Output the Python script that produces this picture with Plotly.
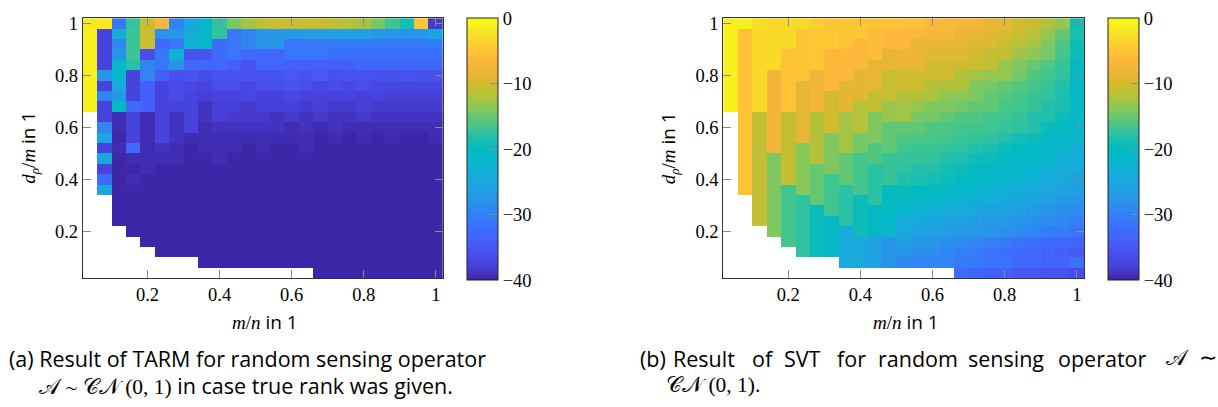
import plotly.graph_objects as go

W, H = 1218, 407
N = None

# ---------------- data ----------------
m_over_n = [0.04, 0.08, 0.12, 0.16, 0.20, 0.24, 0.28, 0.32, 0.36, 0.40, 0.44, 0.48, 0.52,
            0.56, 0.60, 0.64, 0.68, 0.72, 0.76, 0.80, 0.84, 0.88, 0.92, 0.96, 1.00]
# rows listed from top (d_p/m = 1.00) to bottom (0.04)
dp_over_m = [1.00, 0.96, 0.92, 0.88, 0.84, 0.80, 0.76, 0.72, 0.68, 0.64, 0.60, 0.56, 0.52,
             0.48, 0.44, 0.40, 0.36, 0.32, 0.28, 0.24, 0.20, 0.16, 0.12, 0.08, 0.04]

tarm = [
    [-1.5, -1.5, -31, -17.5, -10.5, -7, -29.5, -25, -21.5, -17.5, -14.5, -12.5, -11, -10.5, -10.5, -10.5, -10.5, -11, -11.5, -12.5, -14.5, -17, -19, -5, -38.5],
    [-1, -37.5, -23.5, -17, -10.5, -28, -27.5, -23.5, -21.5, -17.5, -31, -29.5, -27.6, -27.6, -27, -26.5, -26.5, -26, -25.5, -26, -27, -27.5, -28, -27.5, -25],
    [-1, -37.5, -29.5, -17, -10.5, -33, -31, -22.5, -21.5, -32.5, -31, -29.5, -27.6, -27.6, -31, -31, -31, -30.5, -30.5, -30.5, -30.5, -30.5, -30.5, -30.5, -30.5],
    [-1, -37.5, -27.5, -17, -36.5, -31, -23, -36, -35.5, -32.5, -31, -33, -33.2, -33.2, -31, -31, -31, -32, -32, -32, -32, -32, -32, -32, -32],
    [-1, -37.5, -21, -18, -29.5, -31, -28, -33, -33, -33, -34, -35.5, -33.2, -33.2, -34, -34, -34, -34, -34, -33.2, -33.2, -33.2, -33.2, -33.2, -33.2],
    [-1, -27.5, -22, -37.5, -29.5, -34, -36, -35.5, -36.5, -35.5, -35.5, -35.5, -35.6, -35.6, -35, -35.6, -35, -36, -35.6, -35.6, -36, -36, -35.6, -36, -36],
    [-1, -37.5, -24.5, -37.5, -34, -37.5, -36.5, -37, -37.5, -36.5, -36.5, -37, -36.4, -36.4, -36, -36.4, -37, -36.4, -37, -36.4, -37, -37, -37, -37, -37],
    [-1, -29.5, -27, -37.5, -34, -37.5, -36.5, -37.5, -38, -37.5, -37.5, -37, -37.6, -37.6, -37, -37.6, -37.6, -37.6, -37.6, -38, -37.6, -38, -38, -38, -38],
    [-1, -37.5, -20.5, -32.5, -34, -37.5, -37.5, -37.5, -39, -38, -38, -38.5, -38, -38, -38, -38.5, -38, -38.5, -38.5, -38, -38.5, -38.5, -38.5, -38.5, -38.5],
    [N, -37.5, -39.5, -37.5, -39.5, -37.5, -39, -37.5, -39, -38, -38.5, -38.5, -38.5, -39, -38.5, -39, -38.5, -39, -39, -38.5, -39, -39, -39, -39, -39],
    [N, -29.5, -39.5, -37.5, -39.5, -37.5, -39, -37.5, -39.5, -39, -39, -39, -39, -39, -39.5, -39, -39.5, -39, -39.5, -39.5, -39.5, -39.5, -39.5, -39.5, -39.5],
    [N, -25, -40, -37.5, -39.5, -37.5, -39, -39.5, -39.5, -39.5, -39.5, -39.5, -39.5, -39.5, -39.5, -39.5, -40, -39.5, -40, -39.5, -40, -39.5, -40, -40, -39.5],
    [N, -37.5, -39.5, -33, -39.5, -39, -39.5, -40, -39.5, -39.5, -39.5, -40, -39.5, -40, -40, -39.5, -40, -40, -40, -40, -40, -40, -40, -40, -40],
    [N, -25, -40, -39.5, -39.5, -39.5, -39.5, -40, -40, -39.5, -40, -40, -40, -40, -40, -40, -40, -40, -40, -40, -40, -40, -40, -40, -40],
    [N, -37.5, -40, -40, -39.5, -40, -40, -40, -40, -40, -40, -40, -40, -40, -40, -40, -40, -40, -40, -40, -40, -40, -40, -40, -40],
    [N, -32.5, -40, -39.5, -40, -40, -40, -40, -40, -40, -40, -40, -40, -40, -40, -40, -40, -40, -40, -40, -40, -40, -40, -40, -40],
    [N, -25, -40, -40, -40, -40, -40, -40, -40, -40, -40, -40, -40, -40, -40, -40, -40, -40, -40, -40, -40, -40, -40, -40, -40],
    [N, N, -40, -40, -40, -40, -40, -40, -40, -40, -40, -40, -40, -40, -40, -40, -40, -40, -40, -40, -40, -40, -40, -40, -40],
    [N, N, -40, -40, -40, -40, -40, -40, -40, -40, -40, -40, -40, -40, -40, -40, -40, -40, -40, -40, -40, -40, -40, -40, -40],
    [N, N, -40, -40, -40, -40, -40, -40, -40, -40, -40, -40, -40, -40, -40, -40, -40, -40, -40, -40, -40, -40, -40, -40, -40],
    [N, N, N, -40, -40, -40, -40, -40, -40, -40, -40, -40, -40, -40, -40, -40, -40, -40, -40, -40, -40, -40, -40, -40, -40],
    [N, N, N, N, -40, -40, -40, -40, -40, -40, -40, -40, -40, -40, -40, -40, -40, -40, -40, -40, -40, -40, -40, -40, -40],
    [N, N, N, N, N, -40, -40, -40, -40, -40, -40, -40, -40, -40, -40, -40, -40, -40, -40, -40, -40, -40, -40, -40, -40],
    [N, N, N, N, N, N, N, N, -40, -40, -40, -40, -40, -40, -40, -40, -40, -40, -40, -40, -40, -40, -40, -40, -40],
    [N, N, N, N, N, N, N, N, N, N, N, N, N, N, N, N, -40, -40, -40, -40, -40, -40, -40, -40, -40],
]

svt = [
    [-1, -1, -2.5, -3, -3, -3, -4, -4.8, -4.8, -4.8, -5.2, -5.2, -5.5, -5.5, -6.5, -6.5, -7.2, -7.2, -8.8, -8.8, -10.2, -10.6, -12, -13.2, -19.2],
    [-1, -5.4, -3, -3, -3, -5, -4.8, -4.8, -5.2, -4.8, -6, -6.4, -6.4, -6.4, -7.2, -7.2, -8.4, -8.4, -9.2, -9.6, -10.6, -11.6, -13.2, -15.2, -18.6],
    [-1, -5.4, -3, -3, -3, -5, -4.8, -4.8, -5.2, -6.4, -6, -6.4, -6.4, -8.4, -8.8, -8.8, -8.8, -9.6, -9.6, -10.6, -11.6, -12.6, -14.2, -16, -19.2],
    [-1, -5.4, -3, -3, -5.4, -5, -4.8, -6.4, -6.4, -6.4, -6, -8.8, -8.4, -8.4, -9.2, -9.2, -9.2, -10.2, -11, -11, -12.8, -13.6, -14.6, -16.6, -19.4],
    [-1, -5.4, -3, -3, -5.4, -5, -4.8, -6.4, -6.4, -6.4, -8.8, -8.8, -8.8, -8.8, -10.2, -10.2, -10.4, -10.4, -11, -13.2, -14.2, -15.2, -16, -17.2, -20],
    [-1, -5.4, -3, -7.6, -5.4, -5, -7.6, -6.4, -6.4, -9, -8.8, -10.6, -10.2, -10.2, -10.2, -10.2, -12, -12.6, -13.2, -13.2, -14.6, -16, -16.8, -17.6, -20.8],
    [-1, -5.4, -3, -7.6, -5.4, -8.8, -7.6, -6.4, -9, -9, -8.8, -10.6, -10.2, -10.2, -12, -12, -12, -14.2, -14.6, -15.4, -15.8, -16.6, -17.2, -18.2, -20.8],
    [-1, -5.4, -3, -7.6, -5.4, -8.8, -7.6, -10.2, -9, -9, -11, -10.6, -12, -12, -12.2, -13.6, -13.6, -14.2, -15.4, -15.8, -16.4, -17.2, -17.6, -18.6, -20.8],
    [-1, -5.4, -3, -7.6, -5.4, -8.8, -7.6, -10.2, -9, -11.6, -11, -13, -12.6, -13.2, -14.2, -14.2, -14.8, -15.4, -15.4, -16.4, -16.8, -17.2, -18.2, -18.6, -21.2],
    [N, -5.4, -11, -7.6, -11, -8.8, -11.8, -10.2, -12.6, -11.6, -14.2, -13, -12.6, -14.6, -14.6, -15.4, -16, -16, -16.6, -16.8, -17.2, -18.2, -18.2, -19.4, -21.2],
    [N, -5.4, -11, -7.6, -11, -8.8, -11.8, -10.2, -12.6, -11.6, -14.2, -15.4, -15.4, -15.4, -16, -16.2, -16.6, -16.8, -16.8, -17.2, -17.6, -18.2, -19.4, -20.2, -21.8],
    [N, -5.4, -11, -7.6, -11, -8.8, -11.8, -14.2, -12.6, -14.6, -14.2, -15.4, -16, -16.2, -16.2, -16.6, -17, -17.2, -17.6, -18.2, -19, -19.4, -20.8, -21.2, -22.4],
    [N, -5.4, -11, -7.6, -11, -13.8, -11.8, -14.2, -12.6, -14.6, -16, -15.4, -16.6, -17, -17, -17.2, -17.6, -18.2, -18.6, -19.4, -20.2, -20.8, -21.2, -22.2, -23.2],
    [N, -5.4, -11, -14.2, -11, -13.8, -11.8, -14.2, -15.4, -16.6, -16, -17.2, -17.2, -17.2, -17.6, -18.2, -18.6, -19.4, -19.4, -20.8, -20.8, -21.2, -22.2, -23.2, -23.8],
    [N, -5.4, -11, -14.2, -11, -13.8, -15.2, -14.2, -15.4, -16.6, -17.8, -17.2, -17.6, -18.2, -18.2, -19, -19.4, -20.2, -20.8, -21.2, -21.8, -22.2, -23.2, -23.8, -24.4],
    [N, -5.4, -11, -14.2, -11, -13.8, -15.2, -16.8, -15.4, -16.6, -17.8, -17.2, -18.2, -18.6, -19, -19.4, -20.2, -20.8, -21.2, -21.8, -22.8, -23.2, -23.8, -24.4, -25.6],
    [N, -5.4, -11, -14.2, -16.6, -13.8, -15.2, -16.8, -17.8, -16.6, -17.8, -20, -19.4, -20.2, -20.2, -20.8, -21.2, -21.8, -22.8, -23.2, -23.8, -24.4, -25, -25.6, -26.4],
    [N, N, -11, -14.2, -16.6, -17.6, -15.2, -16.8, -17.8, -19.4, -17.8, -20, -20.2, -20.8, -21.2, -21.8, -22.8, -23.2, -23.8, -24.4, -25, -25.6, -26.4, -27, -27.6],
    [N, N, -11, -14.2, -16.6, -17.6, -19.6, -16.8, -17.8, -19.4, -20.8, -20, -22.2, -22.6, -23.2, -23.8, -24.4, -25, -25.6, -25.8, -26.4, -27, -27.6, -28.2, -28.8],
    [N, N, -11, -14.2, -16.6, -17.6, -19.6, -20.8, -17.8, -19.4, -20.8, -22, -24.4, -24.4, -25, -25.6, -25.8, -26.4, -27, -27, -27.6, -28.2, -28.8, -29.4, -30],
    [N, N, N, -14.2, -16.6, -17.6, -19.6, -20.8, -24.2, -19.4, -20.8, -22, -24.4, -25.6, -25.8, -26.4, -27, -27, -27.6, -28.2, -28.8, -29.4, -30, -30.6, -31.2],
    [N, N, N, N, -16.6, -17.6, -19.6, -20.8, -24.2, -24.8, -26, -27.8, -25.6, -27, -27.6, -28.2, -28.8, -29.4, -30, -30.6, -31.2, -31.8, -32.4, -33, -33.6],
    [N, N, N, N, N, -17.6, -19.6, -20.8, -24.2, -24.8, -26, -27.8, -27.4, -28.6, -28.2, -29.4, -30, -30.6, -31.2, -31.8, -32.4, -33, -33.6, -34, -34.6],
    [N, N, N, N, N, N, N, N, -24.2, -24.8, -26, -27.8, -29.4, -29.4, -29.4, -29.4, -30.8, -30.8, -31.6, -31.6, -32.8, -32.8, -33.6, -33.6, -31.6],
    [N, N, N, N, N, N, N, N, N, N, N, N, N, N, N, N, -32.4, -33.2, -34, -34, -35, -35, -35.6, -35.6, -36.4],
]

tick_vals = [0.2, 0.4, 0.6, 0.8, 1.0]
tick_text = ["0.2", "0.4", "0.6", "0.8", "1"]
cbar_vals = [-40, -30, -20, -10, 0]

parula = [
    [0.00, "#3E26A8"], [0.05, "#4640D8"], [0.10, "#4850EE"], [0.15, "#4560FA"],
    [0.20, "#3C6EFD"], [0.25, "#3380F6"], [0.29, "#2A90EC"], [0.345, "#21A0E2"],
    [0.40, "#16ACDA"], [0.45, "#08B6CC"], [0.50, "#02BAC0"], [0.55, "#25C1A8"],
    [0.60, "#50C780"], [0.65, "#84C85C"], [0.70, "#B0C23C"], [0.75, "#D4BB2C"],
    [0.79, "#EDB535"], [0.84, "#FDB83C"], [0.89, "#FCCB30"], [0.94, "#F7E025"],
    [1.00, "#F9FB15"],
]

# ---------------- layout helpers ----------------
def px(x):
    return x / W

def py(y):
    return 1 - y / H

SERIF = "Liberation Serif, DejaVu Serif, serif"
SANS = "Open Sans"

ax1 = [82.7, 443.0]
ax2 = [723.3, 1084.0]
ay = [14.3, 276.7]

def cbar(xleft):
    return dict(
        x=px(xleft), xanchor="left", xpad=0, ypad=0,
        y=py(ay[0]), yanchor="top",
        lenmode="pixels", len=ay[1] - ay[0],
        thicknessmode="pixels", thickness=31.4,
        outlinecolor="#222", outlinewidth=1, borderwidth=0,
        tickvals=cbar_vals, ticks="inside", ticklen=8, tickcolor="#8c8c8c",
        tickfont=dict(family=SERIF, size=18.5, color="black"),
    )

fig = go.Figure()
fig.add_trace(go.Heatmap(x=m_over_n, y=dp_over_m, z=tarm, zmin=-40, zmax=0,
                         colorscale=parula, xaxis="x", yaxis="y",
                         colorbar=cbar(467.3), hoverongaps=False))
fig.add_trace(go.Heatmap(x=m_over_n, y=dp_over_m, z=svt, zmin=-40, zmax=0,
                         colorscale=parula, xaxis="x2", yaxis="y2",
                         colorbar=cbar(1108.3), hoverongaps=False))

axis_common = dict(
    range=[0.02, 1.02], tickvals=tick_vals, ticktext=tick_text,
    ticks="inside", ticklen=8, tickcolor="#8c8c8c", tickwidth=1,
    showline=True, linecolor="#333", linewidth=1, mirror="allticks",
    showgrid=False, zeroline=False,
    tickfont=dict(family=SERIF, size=18.5, color="black"),
)

fig.update_layout(
    width=W, height=H, margin=dict(l=0, r=0, t=0, b=0),
    paper_bgcolor="white", plot_bgcolor="white",
    xaxis=dict(axis_common, domain=[px(ax1[0]), px(ax1[1])], anchor="y"),
    yaxis=dict(axis_common, domain=[py(ay[1]), py(ay[0])], anchor="x"),
    xaxis2=dict(axis_common, domain=[px(ax2[0]), px(ax2[1])], anchor="y2"),
    yaxis2=dict(axis_common, domain=[py(ay[1]), py(ay[0])], anchor="x2"),
    showlegend=False,
)

def math(s):
    return f"<span style='font-family:Liberation Serif'>{s}</span>"

xlabel = math("<i>m</i>/<i>n</i>") + " in 1"
ylabel = math("<i>d</i><sub><i>ρ</i></sub>/<i>m</i>") + " in 1"

ann = []
for a in (ax1, ax2):
    cx = (a[0] + a[1]) / 2
    ann.append(dict(text=xlabel, x=px(cx + 2), y=py(321), xref="paper", yref="paper",
                    xanchor="center", yanchor="middle", showarrow=False,
                    font=dict(family=SANS, size=19, color="black")))
    ann.append(dict(text=ylabel, x=px(a[0] - 55), y=py(145.5), xref="paper", yref="paper",
                    xanchor="center", yanchor="middle", showarrow=False, textangle=-90,
                    font=dict(family=SANS, size=19, color="black")))

cap_font = dict(family=SANS, size=21.5, color="black")
ann.append(dict(text="(a) Result of TARM for random sensing operator",
                x=px(7), y=py(358), xref="paper", yref="paper", xanchor="left",
                yanchor="middle", showarrow=False, font=cap_font))
ann.append(dict(text=math("𝒜 ∼ 𝒞𝒩 (0, 1)") + " in case true rank was given.",
                x=px(37), y=py(385), xref="paper", yref="paper", xanchor="left",
                yanchor="middle", showarrow=False, font=cap_font))

words_b = ["(b)", "Result", "of", "SVT", "for", "random", "sensing", "operator", math("𝒜"), math("∼")]
word_x = [638, 671, 750, 782, 835, 876, 966, 1056, 1164, 1197]
for wtxt, wx in zip(words_b, word_x):
    ann.append(dict(text=wtxt, x=px(wx), y=py(358), xref="paper", yref="paper",
                    xanchor="left", yanchor="middle", showarrow=False, font=cap_font))
ann.append(dict(text=math("𝒞𝒩 (0, 1)."), x=px(664), y=py(385), xref="paper", yref="paper",
                xanchor="left", yanchor="middle", showarrow=False, font=cap_font))

fig.update_layout(annotations=ann)
fig.write_html("out.html")
